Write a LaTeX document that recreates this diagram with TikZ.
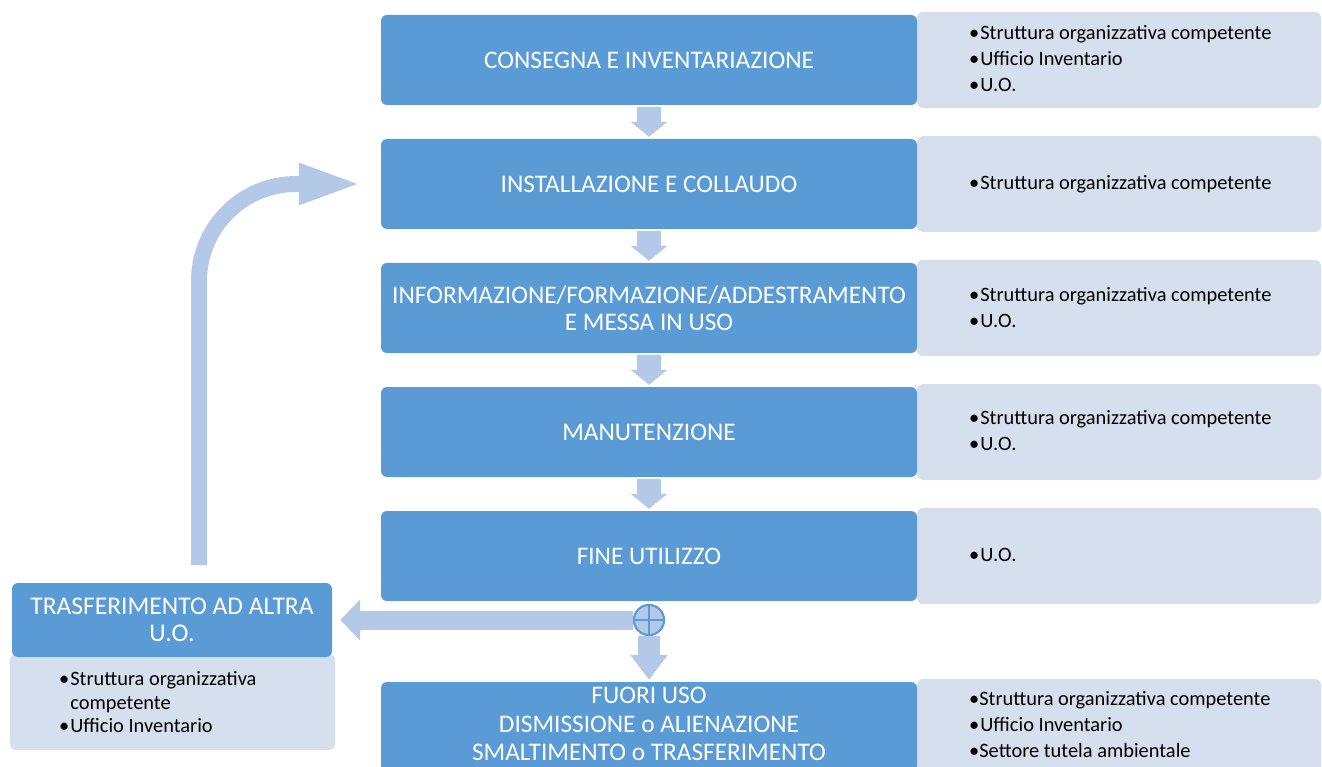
\documentclass[tikz,border=0pt]{standalone}
\usepackage{fontspec}
\setmainfont{Carlito}
\usetikzlibrary{arrows.meta}
\definecolor{boxblue}{HTML}{5B9BD5}
\definecolor{sidegray}{HTML}{D6DFEE}
\definecolor{arrowblue}{HTML}{B4C8E7}

\begin{document}
\begin{tikzpicture}[x=1pt, y=-1pt,
	phase/.style = {fill=boxblue, text=white, rounded corners=6pt, minimum width=536pt, minimum height=90pt, align=center, inner sep=0pt, font=\fontsize{25.3}{27}\selectfont},
	actors/.style = {fill=sidegray, rounded corners=6pt, minimum width=404pt, minimum height=96pt},
	actorlist/.style = {anchor=west, align=left, inner sep=0pt, font=\fontsize{20.4}{26}\selectfont},
	junction/.style = {circle, fill=arrowblue, draw=boxblue, line width=2pt, minimum size=30pt, inner sep=0pt},
	flow/.style = {arrowblue, line width=24pt, -{Triangle[length=15pt,width=36pt]}, shorten <=2pt, shorten >=2pt}]

\useasboundingbox (0,0) rectangle (1322,767);

\node[actors] (s1) at (1119,60) {};
\node[actors] (s2) at (1119,184) {};
\node[actors] (s3) at (1119,308) {};
\node[actors] (s4) at (1119,432) {};
\node[actors] (s5) at (1119,556) {};
\node[actors] (s6) at (1119,727) {};

\node[actorlist] (l1) at (969,59) {•\hspace{1pt}Struttura organizzativa competente\\•\hspace{1pt}Ufficio Inventario\\•\hspace{1pt}U.O.};
\node[actorlist] (l2) at (969,184) {•\hspace{1pt}Struttura organizzativa competente};
\node[actorlist] (l3) at (969,308) {•\hspace{1pt}Struttura organizzativa competente\\•\hspace{1pt}U.O.};
\node[actorlist] (l4) at (969,431) {•\hspace{1pt}Struttura organizzativa competente\\•\hspace{1pt}U.O.};
\node[actorlist] (l5) at (969,555) {•\hspace{1pt}U.O.};
\node[actorlist] (l6) at (969,725) {•Struttura organizzativa competente\\•\hspace{1pt}Ufficio Inventario\\•Settore tutela ambientale};

\node[phase] (p1) at (649,60) {CONSEGNA E INVENTARIAZIONE};
\node[phase] (p2) at (649,184) {INSTALLAZIONE E COLLAUDO};
\node[phase] (p3) at (649,308) {INFORMAZIONE/FORMAZIONE/ADDESTRAMENTO\\E MESSA IN USO};
\node[phase] (p4) at (649,432) {MANUTENZIONE};
\node[phase] (p5) at (649,556) {FINE UTILIZZO};
\node[phase, font=\fontsize{25.3}{28.5}\selectfont] (p6) at (649,727) {};
\node[align=center, text=white, inner sep=0pt, font=\fontsize{25.3}{28.5}\selectfont] (p6text) at (649,724) {FUORI USO\\DISMISSIONE o ALIENAZIONE\\SMALTIMENTO o TRASFERIMENTO};

% trasferimento
\node[actors, minimum width=325pt] (trl) at (172.5,702) {};
\node[phase, minimum width=320pt, minimum height=74pt, font=\fontsize{25.5}{27}\selectfont] (tr) at (172,620) {TRASFERIMENTO AD ALTRA\\U.O.};
\node[actorlist, font=\fontsize{20.4}{23.5}\selectfont] (trlist) at (59,702.5) {•\hspace{1pt}Struttura organizzativa\\\phantom{•}\hspace{1pt}competente\\•\hspace{1pt}Ufficio Inventario};

\foreach \a/\b in {p1/p2,p2/p3,p3/p4,p4/p5}
{
	\draw[flow] (\a) -- (\b);
};

\node[junction] (j) at (649,620) {};
\draw[arrowblue, line width=19pt, -{Triangle[length=20pt,width=40pt]}, shorten >=8pt] (j) -- (tr);
\draw[arrowblue, line width=22pt, -{Triangle[length=25pt,width=36pt]}, shorten >=2pt] (j) -- (p6);
\node[junction] at (j) {};
\draw[boxblue, line width=2pt] (j.north) -- (j.south) (j.west) -- (j.east);

\coordinate (loopstart) at (199,565);
\draw[arrowblue, line width=16pt, rounded corners=97pt, -{Triangle[length=64pt,width=37pt]}, shorten >=18pt] (loopstart) |- (p2.west);
\end{tikzpicture}
\end{document}
